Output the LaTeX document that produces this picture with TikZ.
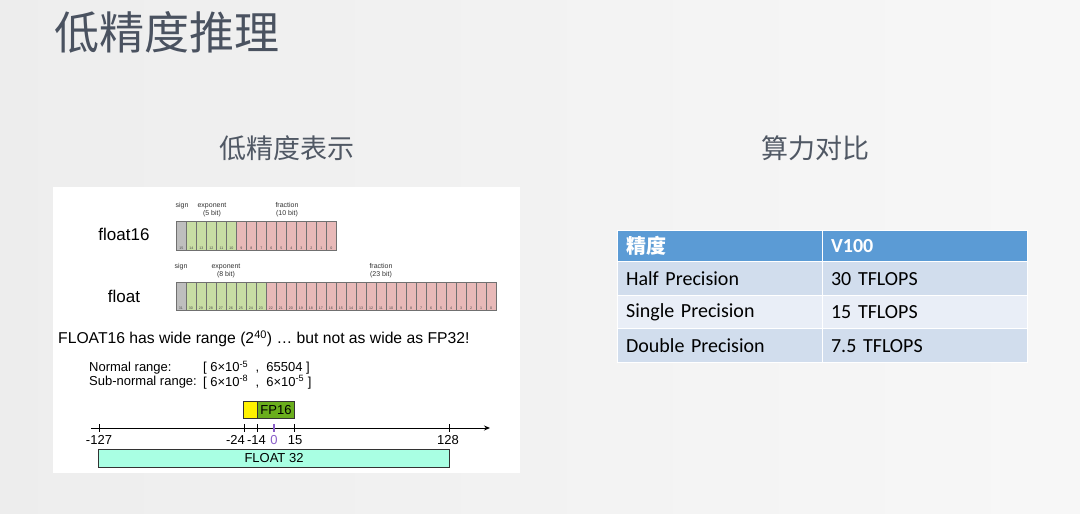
\documentclass[tikz,border=0pt]{standalone}
\usepackage{fontspec}
\setmainfont{Liberation Sans}
\newfontfamily\cjkfont{Noto Sans CJK SC}
\newfontfamily\tabfont{Carlito}
\usetikzlibrary{arrows.meta}
\definecolor{titlec}{HTML}{4A5260}
\definecolor{subc}{HTML}{505864}
\definecolor{signc}{HTML}{BEBEBE}
\definecolor{expc}{HTML}{C8DDA4}
\definecolor{fracc}{HTML}{E8B9B8}
\definecolor{cellb}{HTML}{707070}
\definecolor{fpgreen}{HTML}{6AAE1C}
\definecolor{f32c}{HTML}{A9FFE3}
\definecolor{zeroc}{HTML}{8A5FC8}
\definecolor{headc}{HTML}{5B9BD5}
\definecolor{rowa}{HTML}{D1DDED}
\definecolor{rowb}{HTML}{E9EEF7}
\tikzset{
  cell/.style={draw=cellb, line width=0.8pt, minimum width=10pt, minimum height=29pt, inner sep=0, anchor=north west},
  bitnum/.style={font=\fontsize{3.6}{4}\selectfont, text=black!70, inner sep=0.5pt, anchor=south},
  small/.style={font=\fontsize{7}{8}\selectfont, text=black!80, align=center, inner sep=0},
  flab/.style={font=\fontsize{17}{20}\selectfont, inner sep=0},
  ptext/.style={font=\fontsize{13}{15}\selectfont, inner sep=0, anchor=west},
  ticklab/.style={font=\fontsize{13}{15}\selectfont, inner sep=0},
  tcell/.style={draw=white, line width=1.2pt, anchor=north west, minimum width=205pt, text width=188pt, inner xsep=8.5pt, inner ysep=0, align=left, font=\tabfont\fontsize{20}{22}\selectfont},
  thead/.style={tcell, fill=headc, text=white, font=\tabfont\bfseries\fontsize{20}{22}\selectfont, minimum height=31pt},
}
\begin{document}
\begin{tikzpicture}[x=1pt,y=-1pt]
\useasboundingbox (0,0) rectangle (1080,514);
\shade[left color=black!7, right color=black!3] (0,0) rectangle (1080,514);
% titles
\node[anchor=west, inner sep=0, text=titlec, font=\cjkfont\fontsize{45}{50}\selectfont] (title) at (54,32) {低精度推理};
\node[inner sep=0, text=subc, font=\cjkfont\fontsize{27}{30}\selectfont] (sub1) at (287,148) {低精度表示};
\node[inner sep=0, text=subc, font=\cjkfont\fontsize{27}{30}\selectfont] (sub2) at (815,148) {算力对比};
% left panel
\node[fill=white, anchor=north west, minimum width=467pt, minimum height=286pt, inner sep=0] (panel) at (53,187) {};
% float16
\node[flab] (f16) at (124,234) {float16};
\foreach \i in {0,...,15} {
  \pgfmathtruncatemacro\b{15-\i}
  \ifnum\i=0 \def\cc{signc}\else\ifnum\i<6 \def\cc{expc}\else\def\cc{fracc}\fi\fi
  \node[cell, fill=\cc] (h\i) at ({176+10*\i},221) {};
  \node[bitnum] at ([yshift=0.5pt]h\i.south) {\b};
}
\node[small] (hs) at (182,206) {sign};
\node[small] (he) at (212,209.5) {exponent\\(5 bit)};
\node[small] (hf) at (287,209.5) {fraction\\(10 bit)};
% float
\node[flab] (f32) at (124,296) {float};
\foreach \i in {0,...,31} {
  \pgfmathtruncatemacro\b{31-\i}
  \ifnum\i=0 \def\cc{signc}\else\ifnum\i<9 \def\cc{expc}\else\def\cc{fracc}\fi\fi
  \node[cell, fill=\cc, minimum height=28.5pt] (s\i) at ({175.5+10.006*\i},281.7) {};
  \node[bitnum] at ([yshift=0.5pt]s\i.south) {\b};
}
\node[small] (ss) at (181,267) {sign};
\node[small] (se) at (226,271) {exponent\\(8 bit)};
\node[small] (sf) at (381,270.5) {fraction\\(23 bit)};
% range text
\node[anchor=west, inner sep=0, font=\fontsize{15.7}{19}\selectfont] (wide) at (58,339) {FLOAT16 has wide range (2\textsuperscript{40}) … but not as wide as FP32!};
\node[ptext] (nr) at (89,368) {Normal range:};
\node[ptext] (nrv) at (203,368) {[ 6×10\textsuperscript{-5} \ ,\ \ 65504 ]};
\node[ptext] (sr) at (89,382) {Sub-normal range:};
\node[ptext] (srv) at (203,382) {[ 6×10\textsuperscript{-8} \ ,\ \ 6×10\textsuperscript{-5} ]};
% FP16 box
\node[draw=black!80, line width=0.9pt, fill=yellow, anchor=north west, minimum width=14pt, minimum height=17pt, inner sep=0] (fpy) at (243,401) {};
\node[draw=black!80, line width=0.9pt, fill=fpgreen, anchor=north west, minimum width=37pt, minimum height=17pt, inner sep=0, font=\fontsize{13}{15}\selectfont] (fpg) at (257,401) {FP16};
% axis
\coordinate (axl) at (91,428);
\coordinate (axr) at (490,428);
\draw[line width=1pt, -{Stealth[length=6pt,width=5pt]}] (axl) -- (axr);
\foreach \x/\n/\l/\lx in {99/a/-127/99, 244/b/-24/235.5, 257/c/-14/256.5, 294/e/15/295, 449/f/128/448} {
  \coordinate (t\n) at (\x,428);
  \draw[line width=1pt] ([yshift=4pt]t\n) -- ([yshift=-4pt]t\n);
  \node[ticklab] (l\n) at (\lx,440) {\l};
}
\coordinate (td) at (274,428);
\draw[line width=1.2pt, zeroc] ([yshift=4pt]td) -- ([yshift=-4pt]td);
\node[ticklab, text=zeroc] (ld) at (274,440) {0};
% FLOAT 32
\node[draw=black!80, line width=1pt, fill=f32c, anchor=north west, minimum width=351pt, minimum height=18pt, inner sep=0, font=\fontsize{13}{15}\selectfont] (f32box) at (98,449) {FLOAT 32};
% table
\node[thead] (h1) at (617,230) {\cjkfont\bfseries 精度};
\node[thead] (h2) at (822,230) {V100};
\node[tcell, fill=rowa, minimum height=34pt] (a1) at (617,261) {Half Precision};
\node[tcell, fill=rowa, minimum height=34pt] (a2) at (822,261) {30 TFLOPS};
\node[tcell, fill=rowb, minimum height=33pt] (b1) at (617,295) {Single Precision};
\node[tcell, fill=rowb, minimum height=33pt] (b2) at (822,295) {15 TFLOPS};
\node[tcell, fill=rowa, minimum height=34pt] (c1) at (617,328) {Double Precision};
\node[tcell, fill=rowa, minimum height=34pt] (c2) at (822,328) {7.5 TFLOPS};
\end{tikzpicture}
\end{document}
